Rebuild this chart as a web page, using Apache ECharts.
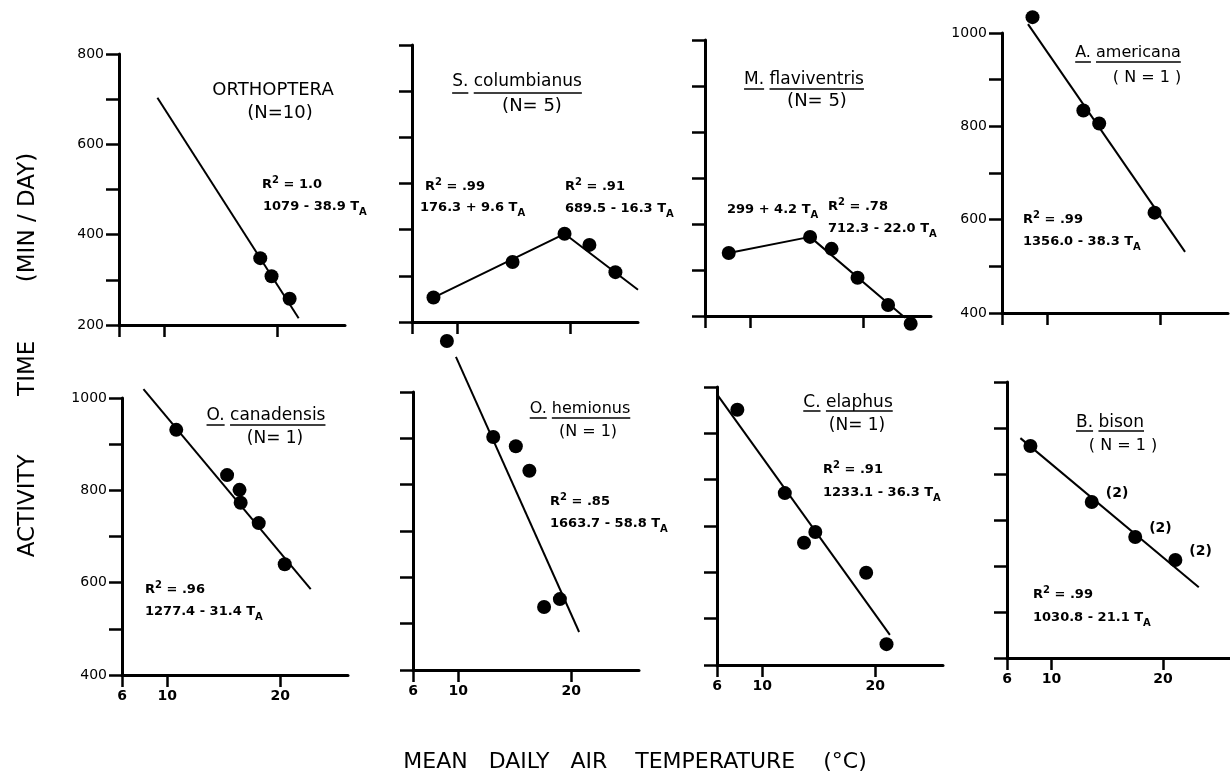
<!DOCTYPE html>
<html><head><meta charset="utf-8">
<script src="https://cdn.jsdelivr.net/npm/echarts@6/dist/echarts.min.js"></script>
<style>html,body{margin:0;padding:0;background:#fff}#c{width:1230px;height:778px}</style>
</head><body><div id="c"></div>
<script>
// ---- data ----
const xTickValues = [6, 10, 20];
const orthopteraT = [18.5, 19.5, 21.1];
const orthopteraV = [348, 308, 258];
const orthopteraFit = [[9.4, 703], [21.9, 215]];
const columbianusT = [7.9, 14.9, 19.5, 21.7, 24.0];
const columbianusV = [253, 330, 391, 367, 308];
const columbianusFit = [[7.9, 253], [19.5, 391], [26.0, 270]];
const flaviventrisT = [8.1, 15.3, 17.2, 19.5, 22.2, 24.2];
const flaviventrisV = [337, 372, 346, 283, 224, 183];
const flaviventrisFit = [[8.1, 337], [15.3, 372], [23.7, 196]];
const americanaT = [8.7, 13.2, 14.6, 19.5];
const americanaV = [1034, 834, 806, 615];
const americanaFit = [[8.3, 1019], [22.2, 531]];
const canadensisT = [10.8, 15.3, 16.4, 16.5, 18.1, 20.4];
const canadensisV = [931, 833, 801, 773, 729, 640];
const canadensisFit = [[7.9, 1019], [22.7, 586]];
const hemionusT = [9.0, 13.1, 15.1, 16.3, 17.6, 19.0];
const hemionusV = [1110, 903, 883, 830, 536, 553];
const hemionusFit = [[9.8, 1076], [20.7, 482]];
const elaphusT = [7.8, 12.0, 13.7, 14.7, 19.2, 21.0];
const elaphusV = [951, 771, 664, 687, 599, 445];
const elaphusFit = [[6.1, 981], [21.3, 465]];
const bisonT = [8.1, 13.6, 17.5, 21.1];
const bisonV = [861, 739, 663, 613];
const bisonCounts = ['', '(2)', '(2)', '(2)'];
const bisonFit = [[7.2, 878], [23.2, 554]];

// ---- layout ----
const FONT = '"DejaVu Sans", sans-serif';
const panels = [
  {T: orthopteraT, V: orthopteraV, fit: orthopteraFit, g: [119, 54, 226, 271], y: [200, 800], yLab: true, xLab: false},
  {T: columbianusT, V: columbianusV, fit: columbianusFit, g: [412, 45, 226, 277], y: [200, 800], yLab: false, xLab: false},
  {T: flaviventrisT, V: flaviventrisV, fit: flaviventrisFit, g: [705, 40, 226, 276], y: [200, 800], yLab: false, xLab: false},
  {T: americanaT, V: americanaV, fit: americanaFit, g: [1002, 33, 226, 280], y: [400, 1000], yLab: true, xLab: false},
  {T: canadensisT, V: canadensisV, fit: canadensisFit, g: [122, 398, 226, 277], y: [400, 1000], yLab: true, xLab: true},
  {T: hemionusT, V: hemionusV, fit: hemionusFit, g: [413, 392, 226, 278], y: [400, 1000], yLab: false, xLab: true},
  {T: elaphusT, V: elaphusV, fit: elaphusFit, g: [717, 387, 226, 278], y: [400, 1000], yLab: false, xLab: true},
  {T: bisonT, V: bisonV, fit: bisonFit, g: [1007, 382, 223, 276], y: [400, 1000], yLab: false, xLab: true, counts: bisonCounts}
];

const grids = [], xAxes = [], yAxes = [], series = [];
panels.forEach((p, i) => {
  grids.push({left: p.g[0], top: p.g[1], width: p.g[2], height: p.g[3]});
  const axisLine = {show: true, onZero: false, lineStyle: {color: '#000', width: 3}};
  xAxes.push({
    type: 'value', gridIndex: i, min: 6, max: 26,
    axisLine,
    splitLine: {show: false},
    axisTick: {show: true, customValues: xTickValues, length: 12, lineStyle: {color: '#000', width: 2.5}},
    axisLabel: {show: p.xLab, customValues: xTickValues, margin: 14, color: '#000',
      fontFamily: FONT, fontSize: 14, fontWeight: 'bold'}
  });
  yAxes.push({
    type: 'value', gridIndex: i, min: p.y[0], max: p.y[1], interval: 100,
    axisLine,
    splitLine: {show: false},
    axisTick: {show: true, length: 13, lineStyle: {color: '#000', width: 2.5}},
    axisLabel: {show: p.yLab, margin: 15, color: '#000', fontFamily: FONT, fontSize: 14,
      formatter: v => (v % 200 === 0 ? String(v) : '')}
  });
  series.push({
    type: 'line', xAxisIndex: i, yAxisIndex: i, data: p.fit, symbol: 'none', clip: false,
    lineStyle: {color: '#000', width: 2}, silent: true, z: 2
  });
  series.push({
    type: 'scatter', xAxisIndex: i, yAxisIndex: i, clip: false, symbolSize: 14,
    itemStyle: {color: '#000', opacity: 1}, z: 3,
    data: p.T.map((t, k) => {
      const d = {value: [t, p.V[k]]};
      if (p.counts && p.counts[k]) {
        d.label = {show: true, formatter: p.counts[k], position: 'right', offset: [2, -9],
          color: '#000', fontFamily: FONT, fontSize: 14, fontWeight: 'bold'};
      }
      return d;
    })
  });
});

// ---- annotations ----
const ctx = document.createElement('canvas').getContext('2d');
function tw(s, font) { ctx.font = font; return ctx.measureText(s).width; }
const graphics = [];
const rich = {
  n: {fontSize: 13, fontWeight: 'bold', fontFamily: FONT, fill: '#000', lineHeight: 20},
  sup: {fontSize: 10, fontWeight: 'bold', fontFamily: FONT, fill: '#000', verticalAlign: 'top', lineHeight: 10},
  sub: {fontSize: 10, fontWeight: 'bold', fontFamily: FONT, fill: '#000', verticalAlign: 'bottom', lineHeight: 10}
};
function plain(x, y, text, font, align) {
  graphics.push({type: 'text', x, y, z: 100, style: {text, font, fill: '#000', align: align || 'center', verticalAlign: 'middle'}});
}
function richText(x, y, text) {
  graphics.push({type: 'text', x, y, z: 100, style: {text, rich, fill: '#000', align: 'left', verticalAlign: 'middle'}});
}
function underlined(cx, y, parts, font, uy) {
  const full = parts.join(' ');
  const w = tw(full, font);
  plain(cx, y, full, font, 'center');
  let start = cx - w / 2;
  parts.forEach((part) => {
    const pw = tw(part, font);
    graphics.push({type: 'line', z: 100, shape: {x1: start, y1: uy, x2: start + pw, y2: uy},
      style: {stroke: '#000', lineWidth: 1.5}});
    start += pw + tw(' ', font);
  });
}
const TF = '17px ' + FONT;
// top row
plain(273, 90, 'ORTHOPTERA', '18px ' + FONT);
plain(280, 113, '(N=10)', '18px ' + FONT);
richText(262, 185, '{n|R}{sup|2}{n| = 1.0}');
richText(263, 207, '{n|1079 - 38.9 T}{sub|A}');

underlined(517, 82, ['S.', 'columbianus'], TF, 93);
plain(532, 106, '(N= 5)', '18px ' + FONT);
richText(425, 187, '{n|R}{sup|2}{n| = .99}');
richText(420, 208, '{n|176.3 + 9.6 T}{sub|A}');
richText(565, 187, '{n|R}{sup|2}{n| = .91}');
richText(565, 209, '{n|689.5 - 16.3 T}{sub|A}');

underlined(804, 80, ['M.', 'flaviventris'], TF, 89);
plain(817, 101, '(N= 5)', '18px ' + FONT);
richText(727, 210, '{n|299 + 4.2 T}{sub|A}');
richText(828, 207, '{n|R}{sup|2}{n| = .78}');
richText(828, 229, '{n|712.3 - 22.0 T}{sub|A}');

underlined(1128, 53, ['A.', 'americana'], '16px ' + FONT, 62);
plain(1147, 78, '( N = 1 )', '16px ' + FONT);
richText(1023, 220, '{n|R}{sup|2}{n| = .99}');
richText(1023, 242, '{n|1356.0 - 38.3 T}{sub|A}');

// bottom row
underlined(266, 416, ['O.', 'canadensis'], TF, 425);
plain(275, 439, '(N= 1)', TF);
richText(145, 590, '{n|R}{sup|2}{n| = .96}');
richText(145, 612, '{n|1277.4 - 31.4 T}{sub|A}');

underlined(580, 409, ['O.', 'hemionus'], '16px ' + FONT, 418);
plain(588, 432, '(N = 1)', '16px ' + FONT);
richText(550, 502, '{n|R}{sup|2}{n| = .85}');
richText(550, 524, '{n|1663.7 - 58.8 T}{sub|A}');

underlined(848, 403, ['C.', 'elaphus'], TF, 411);
plain(857, 426, '(N= 1)', TF);
richText(823, 470, '{n|R}{sup|2}{n| = .91}');
richText(823, 493, '{n|1233.1 - 36.3 T}{sub|A}');

underlined(1110, 423, ['B.', 'bison'], TF, 431);
plain(1123, 446, '( N = 1 )', '16px ' + FONT);
richText(1033, 595, '{n|R}{sup|2}{n| = .99}');
richText(1033, 618, '{n|1030.8 - 21.1 T}{sub|A}');

// axis titles
graphics.push({type: 'text', x: 28, y: 355, rotation: Math.PI / 2, z: 100,
  style: {text: 'ACTIVITY        TIME        (MIN / DAY)', font: '23px ' + FONT, fill: '#000', align: 'center', verticalAlign: 'middle'}});
plain(635, 762, 'MEAN   DAILY   AIR    TEMPERATURE    (°C)', '22px ' + FONT);

const chart = echarts.init(document.getElementById('c'));
chart.setOption({
  animation: false,
  backgroundColor: '#fff',
  grid: grids, xAxis: xAxes, yAxis: yAxes, series, graphic: graphics
});
</script></body></html>
